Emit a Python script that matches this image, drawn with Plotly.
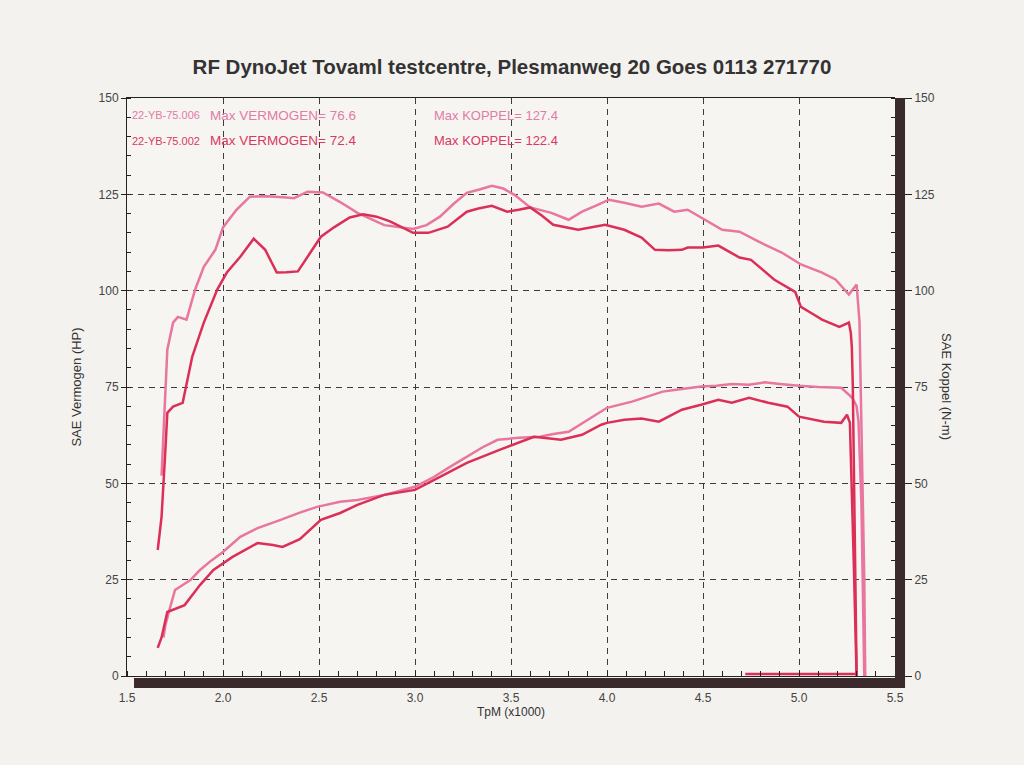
import plotly.graph_objects as go

# ── data ──────────────────────────────────────────────────────────────────────
# run A = 22-YB-75.006 (light pink), run B = 22-YB-75.002 (red)
rpm_koppel_a = [1.68, 1.69, 1.70, 1.71, 1.74, 1.765, 1.81, 1.855, 1.90, 1.96, 2.00,
                2.07, 2.14, 2.23, 2.33, 2.37, 2.44, 2.52, 2.61, 2.70, 2.84, 2.92,
                2.99, 3.06, 3.13, 3.20, 3.27, 3.34, 3.40, 3.46, 3.52, 3.60, 3.71,
                3.80, 3.87, 3.94, 4.01, 4.09, 4.18, 4.27, 4.35, 4.42, 4.51, 4.60,
                4.69, 4.79, 4.91, 5.01, 5.12, 5.19, 5.26, 5.30, 5.315, 5.32, 5.33,
                5.34, 5.345]
koppel_a = [52, 62, 71, 84.7, 91.7, 93.2, 92.5, 100.3, 106.2, 110.6, 116.4,
            121.0, 124.4, 124.5, 124.2, 124.0, 125.7, 125.5, 123.0, 120.2, 117.0, 116.5,
            116.0, 117.0, 119.2, 122.5, 125.4, 126.3, 127.2, 126.5, 124.8, 121.6, 120.2,
            118.4, 120.5, 122.0, 123.6, 122.8, 121.8, 122.6, 120.5, 121.0, 118.4, 115.8,
            115.3, 112.7, 109.9, 106.8, 104.7, 102.9, 99.0, 101.6, 92, 80, 55,
            25, 0]

rpm_koppel_b = [1.66, 1.68, 1.70, 1.71, 1.74, 1.79, 1.84, 1.90, 1.97, 2.02, 2.09,
                2.16, 2.22, 2.28, 2.33, 2.39, 2.45, 2.51, 2.58, 2.66, 2.73, 2.80,
                2.87, 2.93, 2.99, 3.07, 3.17, 3.27, 3.33, 3.40, 3.48, 3.54, 3.60,
                3.66, 3.72, 3.85, 3.92, 3.99, 4.09, 4.18, 4.25, 4.32, 4.39, 4.42,
                4.50, 4.58, 4.64, 4.69, 4.75, 4.87, 4.98, 5.01, 5.07, 5.12, 5.21,
                5.26, 5.27, 5.275, 5.28, 5.285, 5.29, 5.295, 5.30, 4.72]
koppel_b = [32.7, 41.3, 58.7, 68.3, 69.9, 70.9, 82.9, 91.7, 100.3, 104.7, 108.8,
            113.5, 110.6, 104.7, 104.8, 105.0, 109.5, 114.0, 116.5, 119.0, 119.8, 119.2,
            118.0, 116.6, 115.0, 115.0, 116.6, 120.5, 121.3, 122.0, 120.5, 121.0, 121.6,
            119.5, 117.1, 115.8, 116.5, 117.1, 115.8, 113.8, 110.6, 110.5, 110.6, 111.2,
            111.2, 111.7, 110.0, 108.6, 108.0, 102.9, 99.7, 95.8, 94.0, 92.5, 90.6,
            91.7, 89.0, 85.5, 76.0, 58.7, 37.0, 15.0, 0.5, 0.5]

rpm_vermogen_a = [1.69, 1.70, 1.72, 1.75, 1.83, 1.88, 1.94, 2.00, 2.09, 2.18, 2.30,
                  2.40, 2.49, 2.61, 2.70, 2.84, 3.00, 3.10, 3.18, 3.27, 3.35, 3.43,
                  3.54, 3.65, 3.72, 3.80, 3.90, 4.00, 4.13, 4.21, 4.29, 4.39, 4.49,
                  4.57, 4.65, 4.74, 4.82, 4.90, 5.00, 5.10, 5.22, 5.26, 5.28, 5.30,
                  5.31, 5.325, 5.335, 5.34]
vermogen_a = [10.0, 13.2, 17.0, 22.3, 24.9, 27.5, 30.0, 32.2, 36.1, 38.4, 40.5,
              42.4, 43.9, 45.2, 45.7, 47.0, 49.1, 51.7, 54.2, 56.9, 59.3, 61.3,
              61.8, 62.1, 62.8, 63.4, 66.5, 69.6, 71.2, 72.5, 73.8, 74.5, 75.1,
              75.3, 75.8, 75.6, 76.2, 75.8, 75.3, 75.0, 74.8, 73.0, 72.0, 70.0,
              66.0, 45.0, 20.0, 0]

rpm_vermogen_b = [1.66, 1.68, 1.71, 1.80, 1.88, 1.95, 2.05, 2.18, 2.26, 2.31, 2.40,
                  2.51, 2.61, 2.70, 2.84, 3.00, 3.13, 3.27, 3.44, 3.55, 3.62, 3.76,
                  3.87, 3.97, 4.00, 4.09, 4.18, 4.27, 4.39, 4.49, 4.58, 4.65, 4.74,
                  4.84, 4.94, 5.00, 5.13, 5.22, 5.25, 5.265, 5.275, 5.285, 5.295, 5.30]
vermogen_b = [7.3, 10.0, 16.6, 18.4, 23.6, 27.5, 30.9, 34.5, 34.0, 33.5, 35.5,
              40.5, 42.3, 44.4, 47.0, 48.3, 51.7, 55.3, 58.7, 60.8, 62.1, 61.3,
              62.6, 65.2, 65.7, 66.5, 66.8, 66.0, 69.1, 70.4, 71.7, 70.9, 72.2,
              70.9, 69.9, 67.3, 66.0, 65.7, 67.8, 65.7, 50.0, 30.0, 10.0, 0]

runs = ["22-YB-75.006", "22-YB-75.002"]
max_vermogen = ["76.6", "72.4"]
max_koppel = ["127.4", "122.4"]

x_ticks = [1.5, 2.0, 2.5, 3.0, 3.5, 4.0, 4.5, 5.0, 5.5]
x_ticklabels = ["1.5", "2.0", "2.5", "3.0", "3.5", "4.0", "4.5", "5.0", "5.5"]
y_ticks = [0, 25, 50, 75, 100, 125, 150]

# ── colours ───────────────────────────────────────────────────────────────────
PINK = "#e8769f"
RED = "#dc2f57"
PAPER = "#f3f2ef"
GRID = "#3c3c3c"
FONT = "Liberation Sans, Arial, sans-serif"

fig = go.Figure()

# torque (right axis, N-m)
fig.add_trace(go.Scatter(x=rpm_koppel_a, y=koppel_a, mode="lines", yaxis="y2",
                         line=dict(color=PINK, width=2.5), name=runs[0] + " koppel"))
fig.add_trace(go.Scatter(x=rpm_koppel_b, y=koppel_b, mode="lines", yaxis="y2",
                         line=dict(color=RED, width=2.5), name=runs[1] + " koppel"))
# power (left axis, HP)
fig.add_trace(go.Scatter(x=rpm_vermogen_a, y=vermogen_a, mode="lines",
                         line=dict(color=PINK, width=2.5), name=runs[0] + " vermogen"))
fig.add_trace(go.Scatter(x=rpm_vermogen_b, y=vermogen_b, mode="lines",
                         line=dict(color=RED, width=2.5), name=runs[1] + " vermogen"))

# legend-like text block at the top of the plot
for i, (run, col) in enumerate(zip(runs, ["#e27ba6", "#d9395f"])):
    yy = 145.5 - i * 6.6
    for xx, txt, sz in [(1.515, run, 11),
                        (1.92, f"Max VERMOGEN= {max_vermogen[i]}", 13.5),
                        (3.09, f"Max KOPPEL= {max_koppel[i]}", 13)]:
        fig.add_annotation(x=xx, y=yy, xref="x", yref="y", text=txt, showarrow=False,
                           xanchor="left", yanchor="middle",
                           font=dict(family=FONT, size=sz, color=col))

# right axis title reads top-to-bottom
fig.add_annotation(x=1.08, y=0.5, xref="paper", yref="paper", text="SAE Koppel (N-m)",
                   showarrow=False, textangle=90, font=dict(family=FONT, size=13, color="#333"))

# thick dark "shadow" bars on right and bottom of the frame
fig.add_shape(type="rect", xref="paper", yref="paper", x0=1.0, x1=1.0 + 10 / 766,
              y0=-12 / 578, y1=1.0, fillcolor="#3a2a2c", line_width=0, layer="above")
fig.add_shape(type="rect", xref="paper", yref="paper", x0=7 / 766, x1=1.0 + 10 / 766,
              y0=-12 / 578, y1=-2 / 578, fillcolor="#3a2a2c", line_width=0, layer="above")

axis_font = dict(family=FONT, size=12, color="#444")

fig.update_layout(
    width=1024, height=765,
    title=dict(text="<b>RF DynoJet Tovaml testcentre, Plesmanweg 20 Goes 0113 271770</b>",
               x=0.5, xanchor="center", y=0.912, yanchor="middle",
               font=dict(family=FONT, size=20.5, color="#333")),
    paper_bgcolor=PAPER, plot_bgcolor="#f6f5f2",
    margin=dict(l=127, r=129, t=98, b=89),
    showlegend=False,
    xaxis=dict(range=[1.5, 5.5], tickvals=x_ticks, ticktext=x_ticklabels,
               showgrid=True, gridcolor=GRID, griddash="6px,5px", gridwidth=1,
               showline=True, linecolor="#222", linewidth=1, mirror=True,
               ticks="", ticklabelstandoff=11, tickfont=axis_font, zeroline=False,
               minor=dict(dtick=0.1, ticks="inside", ticklen=5, tickcolor="#222", showgrid=False),
               title=dict(text="TpM (x1000)", font=dict(family=FONT, size=12, color="#333"),
                          standoff=2)),
    yaxis=dict(range=[0, 150], tickvals=y_ticks, showgrid=True, gridcolor=GRID,
               griddash="6px,5px", gridwidth=1, showline=True, linecolor="#222",
               linewidth=1, ticks="outside", ticklen=5, tickcolor="#222",
               tickfont=axis_font, zeroline=False,
               minor=dict(dtick=5, ticks="inside", ticklen=4, tickcolor="#222", showgrid=False),
               title=dict(text="SAE Vermogen (HP)", font=dict(family=FONT, size=13, color="#333"),
                          standoff=14)),
    yaxis2=dict(range=[0, 150], tickvals=y_ticks, overlaying="y", side="right",
                showgrid=False, showline=False, ticks="outside", ticklen=16,
                tickcolor="#222", tickfont=axis_font, zeroline=False,
                minor=dict(dtick=5, ticks="inside", ticklen=4, tickcolor="#222")),
)

fig.write_html("out.html", config={"displayModeBar": False},
               post_script="document.body.style.margin='0';")
